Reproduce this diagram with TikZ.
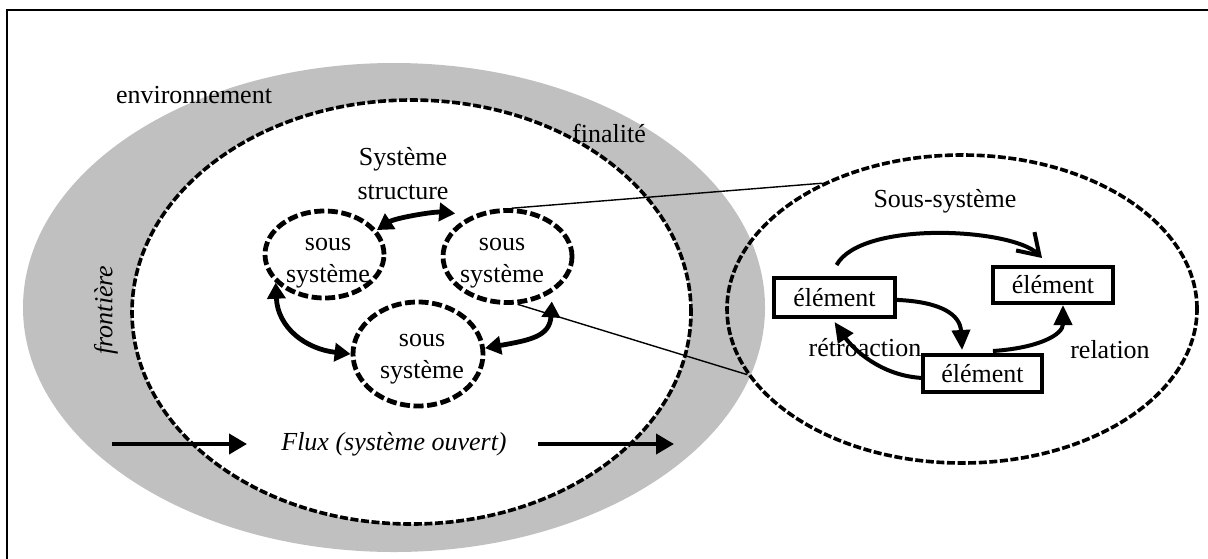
\documentclass[tikz,border=0pt]{standalone}
\usepackage{fontspec}
\setmainfont{Liberation Serif}
\usetikzlibrary{arrows.meta,shapes.geometric,calc}
\definecolor{envgray}{RGB}{192,192,192}
\begin{document}
\begin{tikzpicture}[x=0.5pt,y=-0.5pt,
  font=\fontsize{13}{16}\selectfont,
  bigell/.style={ellipse, draw, inner sep=0pt, line width=1.8pt, dash pattern=on 4pt off 1.3pt},
  subsys/.style={ellipse, draw, inner sep=0pt, line width=2.4pt, dash pattern=on 5pt off 1.8pt},
  elembox/.style={draw, rectangle, line width=2pt, inner sep=0pt},
  lbl/.style={inner sep=0pt, align=center},
  dbl/.style={line width=2.4pt, arrows={Triangle[length=8pt,width=9pt]-Triangle[length=8pt,width=9pt]}},
  flux/.style={line width=2pt, arrows={-Triangle[length=9pt,width=10pt]}},
  rel/.style={line width=2pt, arrows={-Triangle[length=10pt,width=9pt]}},
  zoomline/.style={line width=0.7pt}]
\useasboundingbox (0,0) rectangle (1208,558);
% frame
\draw[line width=1pt] (7,9.5) rectangle (1214,564);
% environment
\node[ellipse, fill=envgray, inner sep=0pt, minimum width=371pt, minimum height=244.5pt] (env) at (394,307.5) {};
% system
\node[bigell, fill=white, minimum width=279.5pt, minimum height=212pt] (sys) at (411.5,312) {};
% sub-system zoom
\node[bigell, minimum width=235pt, minimum height=154pt] (sub) at (962,309) {};
% small sub-systems
\node[subsys, minimum width=59.5pt, minimum height=43.5pt] (ssA) at (324.5,254.5) {};
\node[subsys, minimum width=64.5pt, minimum height=46pt] (ssB) at (507.5,256.5) {};
\node[subsys, minimum width=65pt, minimum height=52pt] (ssC) at (418,354) {};
% zoom lines
\draw[zoomline] (ssB.85) -- (sub.138.6);
\draw[zoomline] (ssB.-78) -- (sub.197.8);
% labels
\node[lbl] (tenv) at (194,95) {environnement};
\node[lbl] (tfin) at (609,133) {finalité};
\node[lbl, rotate=90, font=\fontsize{13}{16}\selectfont\itshape] (tfront) at (106,310) {frontière};
\node[lbl, font=\fontsize{13}{17}\selectfont] (tstruct) at (403,174) {Système\\structure};
\node[lbl] (tA) at (328,263) {sous\\système};
\node[lbl] (tB) at (502,263) {sous\\système};
\node[lbl] (tC) at (422,359.5) {sous\\système};
\node[lbl, font=\fontsize{13}{16}\selectfont\itshape] (tflux) at (394,444) {Flux (système ouvert)};
% arrows between sub-systems
\draw[dbl] (ssA.25) .. controls +(18,-12) and +(-22,-2) .. ([shift={(-4.3pt,3.2pt)}]ssB.140);
\draw[dbl] (ssA.210) .. controls +(2,45) and +(-45,-5) .. (ssC.180);
\draw[dbl] (ssC.5) .. controls +(45,-8) and +(-2,35) .. ([shift={(1.2pt,-3.6pt)}]ssB.-42);
% flux arrows
\coordinate (f1s) at (112,444);
\coordinate (f1e) at (247,444);
\coordinate (f2s) at (538,444);
\coordinate (f2e) at (674,444);
\draw[flux] (f1s) -- (f1e);
\draw[flux] (f2s) -- (f2e);
% right ellipse contents
\node[lbl] (tsous) at (945,201) {Sous-système};
\node[elembox, minimum width=60.5pt, minimum height=19.5pt] (e1) at (834.5,297.5) {élément};
\node[elembox, minimum width=60pt, minimum height=18pt] (e2) at (1053,285) {élément};
\node[elembox, minimum width=59.5pt, minimum height=18.5pt] (e3) at (982.5,373.5) {élément};
\node[lbl] (tretro) at (865,348) {rétroaction};
\node[lbl] (trel) at (1110,350) {relation};
\draw[line width=2pt, arrows={-Straight Barb[length=10pt,width=13pt]}]
  ([shift={(1pt,5.5pt)}]e1.north) .. controls +(25,-45) and +(-30,-30) .. ([shift={(-5.5pt,3.5pt)}]e2.north);
\draw[rel] ([yshift=-1.2pt]e1.east) .. controls +(45,2) and +(-2,-35) .. ([shift={(-10.2pt,1.5pt)}]e3.north);
\draw[rel] ([shift={(5.2pt,1pt)}]e3.north) .. controls +(45,-3) and +(0,30) .. ([xshift=5pt]e2.south);
\draw[rel] ([yshift=-2.2pt]e3.west) .. controls +(-45,-3) and +(15,22) .. ([yshift=-1.5pt]e1.south);
\end{tikzpicture}
\end{document}
